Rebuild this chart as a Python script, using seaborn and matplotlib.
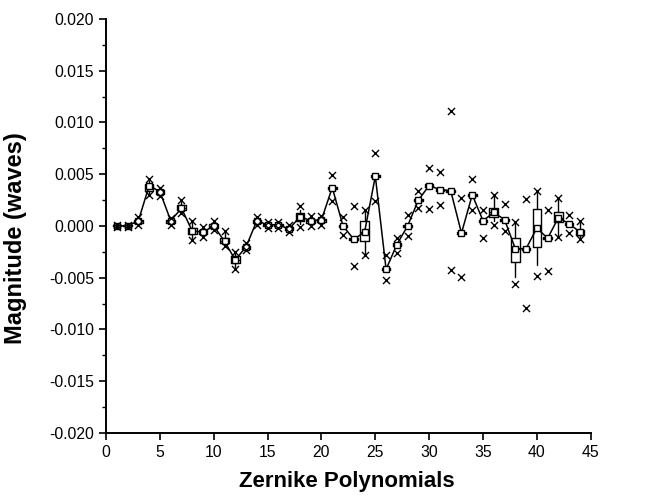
import numpy as np
import pandas as pd
import matplotlib
matplotlib.use("Agg")
import matplotlib.pyplot as plt
import seaborn as sns

# zernike index
term = list(range(1, 45))

# mean value per term (line + square)
mean = [0.0000, 0.0000, 0.0005, 0.0039, 0.0033, 0.0005, 0.0017, -0.0005, -0.0006, 0.0000,
        -0.0015, -0.0033, -0.0020, 0.0005, 0.0001, 0.0001, -0.0003, 0.0009, 0.0005, 0.0006,
        0.0037, 0.0000, -0.0013, -0.0006, 0.0048, -0.0042, -0.0018, 0.0000, 0.0025, 0.0039,
        0.0035, 0.0034, -0.0007, 0.0030, 0.0005, 0.0013, 0.0006, -0.0022, -0.0022, -0.0002,
        -0.0012, 0.0008, 0.0002, -0.0006]

# box quartiles
q1 = [-0.00005, -0.00005, 0.0003, 0.0034, 0.0031, 0.0003, 0.0015, -0.0008, -0.0008, -0.0002,
      -0.0017, -0.0036, -0.0022, 0.0003, 0.0000, 0.0000, -0.0004, 0.0005, 0.0003, 0.0004,
      0.0036, -0.0001, -0.0014, -0.0015, 0.0047, -0.0043, -0.0019, -0.0001, 0.0024, 0.0038,
      0.0034, 0.0033, -0.0008, 0.0029, 0.0004, 0.0009, 0.0005, -0.0035, -0.0023, -0.0020,
      -0.0013, 0.0004, 0.0001, -0.0009]
q3 = [0.00005, 0.00005, 0.0006, 0.0040, 0.0035, 0.0006, 0.0020, -0.0002, -0.0004, 0.0002,
      -0.0012, -0.0029, -0.0019, 0.0006, 0.0002, 0.0002, -0.0001, 0.0012, 0.0006, 0.0007,
      0.0038, 0.0001, -0.0012, 0.0005, 0.0049, -0.0041, -0.0017, 0.0001, 0.0026, 0.0040,
      0.0036, 0.0035, -0.0006, 0.0031, 0.0006, 0.0017, 0.0007, -0.0012, -0.0021, 0.0016,
      -0.0011, 0.0013, 0.0003, -0.0004]
# whiskers
wlo = [-0.0001, -0.0001, 0.0002, 0.0031, 0.0030, 0.0002, 0.0013, -0.0012, -0.0010, -0.0003,
       -0.0018, -0.0040, -0.0023, 0.0002, -0.0001, -0.0001, -0.0005, 0.0002, 0.0001, 0.0002,
       0.0036, -0.0001, -0.0014, -0.0028, 0.0047, -0.0043, -0.0019, -0.0001, 0.0024, 0.0038,
       0.0034, 0.0033, -0.0008, 0.0029, 0.0004, 0.0005, 0.0005, -0.0049, -0.0023, -0.0038,
       -0.0013, -0.0011, 0.0001, -0.0013]
whi = [0.0001, 0.0001, 0.0008, 0.0043, 0.0036, 0.0007, 0.0023, 0.0003, -0.0002, 0.0004,
       -0.0007, -0.0027, -0.0018, 0.0008, 0.0003, 0.0003, 0.0000, 0.0015, 0.0008, 0.0009,
       0.0038, 0.0001, -0.0012, 0.0015, 0.0049, -0.0041, -0.0017, 0.0001, 0.0026, 0.0040,
       0.0036, 0.0035, -0.0006, 0.0031, 0.0006, 0.0030, 0.0007, 0.0004, -0.0021, 0.0034,
       -0.0011, 0.0027, 0.0003, 0.0005]
# min / max crosses
vmin = [-0.0001, -0.0001, 0.0001, 0.0030, 0.0029, 0.0001, 0.0012, -0.0014, -0.0011, -0.0004,
        -0.0019, -0.0042, -0.0023, 0.0001, -0.0002, -0.0002, -0.0006, -0.0001, 0.0000, 0.0001,
        0.0024, -0.0009, -0.0039, -0.0028, 0.0024, -0.0052, -0.0026, -0.0010, 0.0017, 0.0016,
        0.0020, -0.0043, -0.0049, 0.0015, -0.0012, 0.0001, -0.0005, -0.0056, -0.0079, -0.0048,
        -0.0044, -0.0011, -0.0007, -0.0013]
vmax = [0.0001, 0.0001, 0.0009, 0.0045, 0.0037, 0.0008, 0.0025, 0.0005, -0.0001, 0.0005,
        -0.0005, -0.0025, -0.0017, 0.0009, 0.0004, 0.0004, 0.0001, 0.0019, 0.0010, 0.0010,
        0.0049, 0.0009, 0.0019, 0.0015, 0.0070, -0.0028, -0.0012, 0.0011, 0.0034, 0.0056,
        0.0052, 0.0111, 0.0027, 0.0045, 0.0015, 0.0030, 0.0021, 0.0004, 0.0026, 0.0034,
        0.0015, 0.0027, 0.0011, 0.0005]

df = pd.DataFrame({"term": term, "mean": mean})
ext = pd.DataFrame({"term": term * 2, "val": vmin + vmax})

sns.set_style("ticks")
plt.rcParams["font.family"] = ["Liberation Sans", "DejaVu Sans"]
plt.rcParams["axes.labelcolor"] = "black"
plt.rcParams["text.color"] = "black"

fig = plt.figure(figsize=(6.47, 4.97), dpi=100)
ax = fig.add_axes([0.164, 0.129, 0.749, 0.833])

stats = []
for i in range(len(term)):
    stats.append({"med": mean[i], "q1": q1[i], "q3": q3[i],
                  "whislo": wlo[i], "whishi": whi[i], "fliers": []})
ax.bxp(stats, positions=term, widths=0.8, showcaps=False, manage_ticks=False,
       boxprops=dict(color="black", lw=1.0),
       whiskerprops=dict(color="black", lw=1.0),
       medianprops=dict(color="black", lw=1.0))

sns.lineplot(data=df, x="term", y="mean", color="black", lw=1.1,
             marker="s", markersize=4.8, markerfacecolor="white",
             markeredgecolor="black", markeredgewidth=1.0, ax=ax, zorder=4)
sns.scatterplot(data=ext, x="term", y="val", marker="x", s=26, color="black",
                linewidth=1.0, ax=ax, zorder=5)

ax.set_xlim(0, 45)
ax.set_ylim(-0.02, 0.02)
ax.set_xticks(range(0, 46, 5))
ax.set_yticks(np.arange(-0.02, 0.0201, 0.005))
ax.set_yticks(np.arange(-0.0175, 0.02, 0.005), minor=True)
ax.set_yticklabels([f"{v:.3f}" for v in np.arange(-0.02, 0.0201, 0.005)])
ax.tick_params(axis="both", which="major", direction="out", length=5, width=1.2,
               labelsize=11.3, color="black", labelcolor="black")
ax.tick_params(axis="y", which="minor", direction="out", length=3, width=1.0, color="black")
for s in ["left", "bottom"]:
    ax.spines[s].set_linewidth(1.4)
    ax.spines[s].set_color("black")
sns.despine(ax=ax)

ax.set_xlabel("Zernike Polynomials", fontsize=16, fontweight="bold", color="black")
ax.set_ylabel("Magnitude (waves)", fontsize=17, fontweight="bold", color="black")
ax.xaxis.set_label_coords(0.497, -0.092)
ax.yaxis.set_label_coords(-0.163, 0.47)

fig.savefig("out.png", dpi=100)
